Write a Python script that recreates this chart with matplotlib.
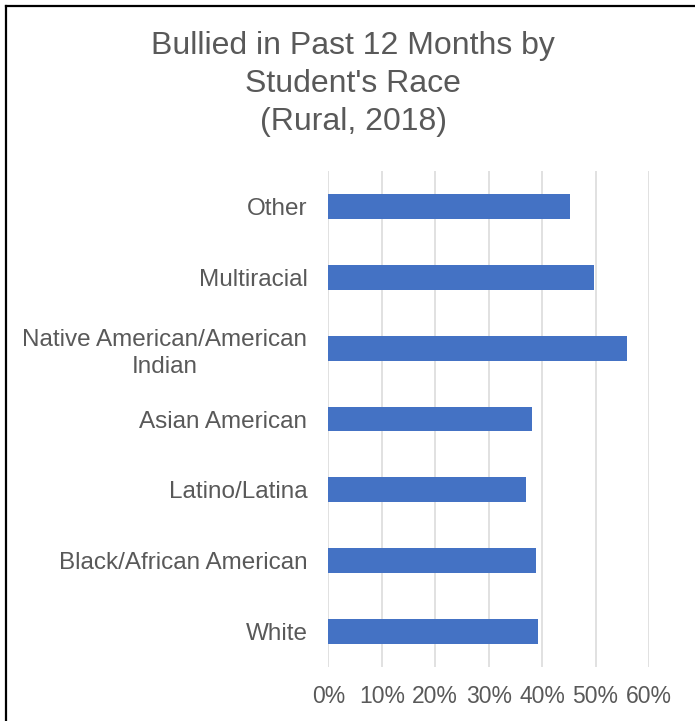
import matplotlib.pyplot as plt
from matplotlib.lines import Line2D
from matplotlib.ticker import PercentFormatter

plt.rcParams['font.family'] = ['Liberation Sans', 'DejaVu Sans']

races = ["White", "Black/African American", "Latino/Latina", "Asian American",
         "Native American/American\nIndian", "Multiracial", "Other"]
bullied_pct = [39.3, 38.9, 36.9, 38.2, 55.9, 49.8, 45.3]
x_ticks = [0, 10, 20, 30, 40, 50, 60]

grey = '#595959'
fig = plt.figure(figsize=(6.95, 7.21), dpi=100)
ax = fig.add_axes([0.4724, 0.0749, 0.4614, 0.6879])

ax.barh(range(len(races)), bullied_pct, height=0.35, color='#4472C4', zorder=3)

ax.set_xlim(0, 60)
ax.set_ylim(-0.5, len(races) - 0.5)
ax.set_xticks(x_ticks)
ax.xaxis.set_major_formatter(PercentFormatter(decimals=0))
ax.set_yticks(range(len(races)))
ax.set_yticklabels(races, multialignment='center', linespacing=1.3)

ax.grid(axis='x', color='#D9D9D9', linewidth=1.1, zorder=0)
for s in ax.spines.values():
    s.set_visible(False)
ax.tick_params(axis='x', length=0, pad=13, labelsize=16.5, labelcolor=grey)
ax.tick_params(axis='y', length=0, pad=15, labelsize=17.5, labelcolor=grey)

fig.text(353 / 695, 1 - 84 / 721,
         "Bullied in Past 12 Months by\nStudent's Race\n(Rural, 2018)",
         ha='center', va='center', fontsize=23, color=grey, linespacing=1.36)

# frame lines along the left and top edges
fig.add_artist(Line2D([6 / 695, 6 / 695], [0, 1 - 6 / 721], transform=fig.transFigure,
                      color='black', linewidth=1.6, solid_capstyle='projecting'))
fig.add_artist(Line2D([6 / 695, 1], [1 - 6 / 721, 1 - 6 / 721], transform=fig.transFigure,
                      color='black', linewidth=1.6, solid_capstyle='projecting'))

fig.savefig('out.png', dpi=100)
